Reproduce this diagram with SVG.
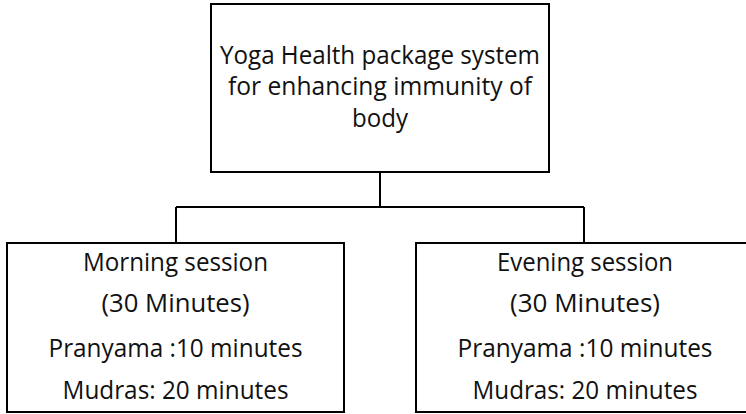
<svg xmlns="http://www.w3.org/2000/svg" width="746" height="414" viewBox="0 0 746 414">
<style>
.box{fill:#fff;stroke:#000;stroke-width:2}
.t{font-family:"Open Sans","Liberation Sans",sans-serif;font-size:25px;fill:#111;text-anchor:middle}
.c{fill:none;stroke:#000;stroke-width:2}
</style>
<rect width="746" height="414" fill="#fff"/>
<g id="connectors">
<path class="c" d="M380 172 V207 M176 207 H584 M176 207 V243 M584 207 V243"/>
</g>
<g id="root">
<rect class="box" x="211" y="4" width="338" height="168"/>
<text class="t" x="380" y="64" textLength="320" lengthAdjust="spacingAndGlyphs">Yoga Health package system</text>
<text class="t" x="380" y="95" textLength="304" lengthAdjust="spacingAndGlyphs">for enhancing immunity of</text>
<text class="t" x="380" y="127" textLength="56" lengthAdjust="spacingAndGlyphs">body</text>
</g>
<g id="morning">
<rect class="box" x="7" y="243" width="337" height="169"/>
<text class="t" x="175.5" y="271" textLength="185" lengthAdjust="spacingAndGlyphs">Morning session</text>
<text class="t" x="175.5" y="312" textLength="148" lengthAdjust="spacingAndGlyphs">(30 Minutes)</text>
<text class="t" x="175.5" y="357" textLength="254" lengthAdjust="spacingAndGlyphs">Pranyama :10 minutes</text>
<text class="t" x="175.5" y="399" textLength="226" lengthAdjust="spacingAndGlyphs">Mudras: 20 minutes</text>
</g>
<g id="evening">
<rect class="box" x="416" y="243" width="340" height="169"/>
<text class="t" x="585" y="271" textLength="176" lengthAdjust="spacingAndGlyphs">Evening session</text>
<text class="t" x="585" y="312" textLength="150" lengthAdjust="spacingAndGlyphs">(30 Minutes)</text>
<text class="t" x="585" y="357" textLength="255" lengthAdjust="spacingAndGlyphs">Pranyama :10 minutes</text>
<text class="t" x="585" y="399" textLength="225" lengthAdjust="spacingAndGlyphs">Mudras: 20 minutes</text>
</g>
</svg>
